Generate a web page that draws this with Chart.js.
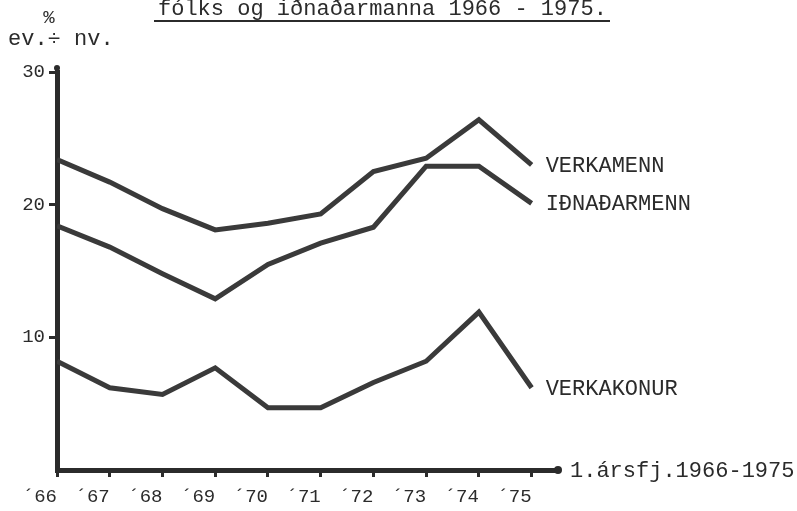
<!DOCTYPE html>
<html>
<head>
<meta charset="utf-8">
<script src="https://cdn.jsdelivr.net/npm/chart.js@4"></script>
<style>
  html, body { margin: 0; padding: 0; background: #fff; }
</style>
</head>
<body>
<canvas id="grafLaun" width="797" height="511"></canvas>
<script>
// 1. ársfjórðungur 1966-1975, % ev. ÷ nv.
const ar = ['66', '67', '68', '69', '70', '71', '72', '73', '74', '75'];
const arMerki = ar.map(a => '\u00b4' + a);
const verkamenn   = [23.4, 21.7, 19.7, 18.1, 18.6, 19.3, 22.5, 23.5, 26.4, 23.0];
const idnadarmenn = [18.4, 16.8, 14.8, 12.9, 15.5, 17.1, 18.3, 22.9, 22.9, 20.1];
const verkakonur  = [8.2, 6.2, 5.7, 7.7, 4.7, 4.7, 6.6, 8.2, 11.9, 6.2];
const heiti = ['VERKAMENN', 'IÐNAÐARMENN', 'VERKAKONUR'];
const yGildi = [10, 20, 30];

const LETUR = '"Liberation Mono", "DejaVu Sans Mono", monospace';
const BLEK = '#2b2b2b';

function punktar(gildi) {
  return gildi.map((v, i) => ({ x: i, y: v }));
}

function lina(nafn, gildi) {
  return {
    label: nafn,
    data: punktar(gildi),
    borderColor: '#3a3a3a',
    borderWidth: 5,
    pointRadius: 0,
    tension: 0,
    fill: false
  };
}

const textar = {
  id: 'textar',
  afterDraw(chart) {
    const ctx = chart.ctx;
    const ca = chart.chartArea;
    ctx.save();
    ctx.fillStyle = BLEK;
    ctx.strokeStyle = BLEK;

    // fyrirsögn (skorin að ofan)
    ctx.font = '22px ' + LETUR;
    ctx.textAlign = 'left';
    ctx.textBaseline = 'alphabetic';
    ctx.fillText('fólks og iðnaðarmanna 1966 - 1975.', 158, 15);
    ctx.lineWidth = 2;
    ctx.beginPath();
    ctx.moveTo(154, 21);
    ctx.lineTo(610, 21);
    ctx.stroke();

    // eining
    ctx.font = '19px ' + LETUR;
    ctx.textAlign = 'center';
    ctx.textBaseline = 'middle';
    ctx.fillText('%', 49, 18);
    ctx.font = '22px ' + LETUR;
    ctx.textAlign = 'left';
    ctx.fillText('ev.÷ nv.', 8, 39);

    // x-ás heiti og punktur
    ctx.fillText('1.ársfj.1966-1975', ca.right + 12, ca.bottom + 1);
    ctx.beginPath();
    ctx.arc(ca.right, ca.bottom, 4, 0, Math.PI * 2);
    ctx.fill();

    // efsti punktur y-áss
    ctx.beginPath();
    ctx.arc(ca.left, ca.top - 4, 3, 0, Math.PI * 2);
    ctx.fill();

    // heiti lína við síðasta punkt
    chart.data.datasets.forEach((ds, i) => {
      const meta = chart.getDatasetMeta(i);
      const p = meta.data[meta.data.length - 1];
      ctx.fillText(heiti[i], p.x + 14, p.y + 1);
    });
    ctx.restore();
  }
};

new Chart(document.getElementById('grafLaun'), {
  type: 'line',
  data: {
    datasets: [
      lina(heiti[0], verkamenn),
      lina(heiti[1], idnadarmenn),
      lina(heiti[2], verkakonur)
    ]
  },
  options: {
    responsive: false,
    devicePixelRatio: 1,
    animation: false,
    layout: { padding: { top: 72, right: 239, bottom: 0, left: 0 } },
    plugins: { legend: { display: false }, tooltip: { enabled: false } },
    scales: {
      x: {
        type: 'linear',
        min: 0,
        max: 9.5,
        afterBuildTicks: s => { s.ticks = ar.map((a, i) => ({ value: i })); },
        afterFit: s => { s.height = 41; },
        border: { display: true, width: 5, color: BLEK },
        grid: { drawOnChartArea: false, drawTicks: true, tickLength: 7, tickWidth: 3, tickColor: BLEK },
        ticks: {
          align: 'end',
          padding: 9,
          maxRotation: 0,
          autoSkip: false,
          color: BLEK,
          font: { family: LETUR, size: 19 },
          callback: v => arMerki[v] ?? ''
        }
      },
      y: {
        min: 0,
        max: 30,
        afterBuildTicks: s => { s.ticks = yGildi.map(v => ({ value: v })); },
        afterFit: s => { s.width = 57; },
        border: { display: true, width: 5, color: BLEK },
        grid: { drawOnChartArea: false, drawTicks: true, tickLength: 8, tickWidth: 3, tickColor: BLEK },
        ticks: {
          padding: 4,
          color: BLEK,
          font: { family: LETUR, size: 19 }
        }
      }
    }
  },
  plugins: [textar]
});
</script>
</body>
</html>
